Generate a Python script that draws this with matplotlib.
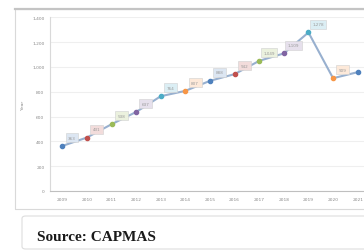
import matplotlib
matplotlib.use("Agg")
import matplotlib.pyplot as plt
from matplotlib.patches import Rectangle, FancyBboxPatch

years = [2009, 2010, 2011, 2012, 2013, 2014, 2015, 2016, 2017, 2018, 2019, 2020, 2021]
values = [363, 431, 538, 637, 764, 807, 888, 942, 1049, 1109, 1278, 909, 958]
yticks = [0, 200, 400, 600, 800, 1000, 1200, 1400]
ytick_labels = ["0", "200", "400", "600", "800", "1,000", "1,200", "1,400"]
ylabel = "Year"
source_text = "Source: CAPMAS"

marker_cols = ["#4F81BD", "#C0504D", "#9BBB59", "#8064A2", "#4BACC6", "#F79646"]
label_cols = ["#DCE6F2", "#F2DCDB", "#EBF1DE", "#E6E0EC", "#DBEEF4", "#FDE9D9"]

W, H = 364, 251
fig = plt.figure(figsize=(W / 100, H / 100), dpi=100)
fig.patch.set_facecolor("white")

# chart frame
fig.patches.append(Rectangle((15 / W, 1 - 210 / H), 1.2, 200 / H, transform=fig.transFigure,
                             fill=False, edgecolor="#d9d9d9", linewidth=0.8, zorder=1))
fig.lines.append(plt.Line2D([15 / W, 1], [1 - 10 / H, 1 - 10 / H], transform=fig.transFigure,
                            color="#c4c4c4", linewidth=1.6, zorder=2))

# source box
fig.patches.append(FancyBboxPatch((22 / W, 1 - 250 / H), 1.2, 33 / H,
                                  boxstyle="round,pad=0,rounding_size=0.01",
                                  transform=fig.transFigure, fill=True, facecolor="white",
                                  edgecolor="#dddddd", linewidth=0.8, zorder=1))
fig.text(37 / W, 1 - 238 / H, source_text, fontsize=11, fontweight="bold",
         family="Liberation Serif", color="#1a1a1a", va="center", ha="left")

ax = fig.add_axes([50 / W, 1 - 192 / H, 320 / W, (192 - 18.3) / H])
ax.set_facecolor("none")
ax.set_xlim(2008.5, 2021.5)
ax.set_ylim(0, 1400)
ax.set_yticks(yticks)
ax.set_yticklabels(ytick_labels)
ax.set_xticks(years)
ax.set_xticklabels([str(y) for y in years])
ax.tick_params(axis="both", labelsize=3.2, colors="#8a8a8a", length=0, pad=4)
ax.grid(axis="y", color="#efefef", linewidth=0.8)
ax.set_axisbelow(True)
for s in ["top", "right"]:
    ax.spines[s].set_visible(False)
ax.spines["left"].set_color("#d9d9d9")
ax.spines["bottom"].set_color("#bfbfbf")
ax.spines["left"].set_linewidth(0.8)
ax.spines["bottom"].set_linewidth(0.8)
ax.set_ylabel(ylabel, fontsize=3.2, color="#8a8a8a", labelpad=5)

ax.plot(years, values, color="#98B0CF", linewidth=1.5, zorder=3)
n = len(years)
for i, (x, v) in enumerate(zip(years, values)):
    ax.plot([x], [v], marker="o", markersize=3.0, color=marker_cols[i % 6],
            markeredgecolor=marker_cols[i % 6], zorder=4)
    if i < n - 1:
        ax.annotate(f"{v:,}", (x, v), xytext=(7, 6), textcoords="offset points",
                    fontsize=3, color="#9a9a9a", ha="center", va="center",
                    bbox=dict(boxstyle="square,pad=0.6", facecolor=label_cols[i % 6],
                              edgecolor="#d0d0d0", linewidth=0.4), zorder=5)

fig.savefig("out.png", dpi=100)
